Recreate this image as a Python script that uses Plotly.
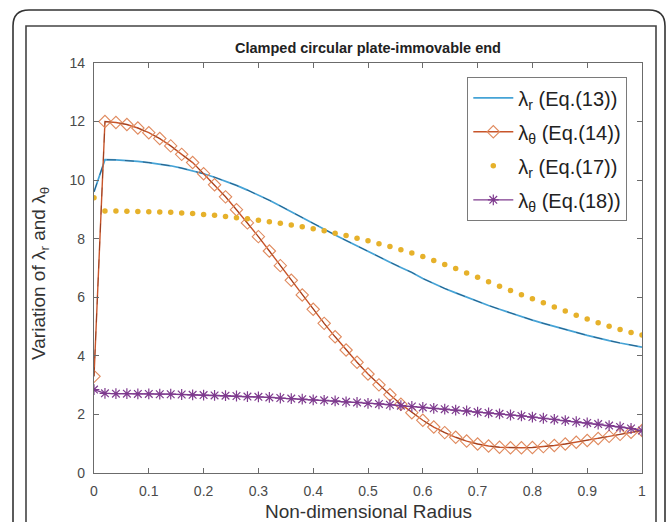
import plotly.graph_objects as go

# ---------------- data ----------------
radius = [0.00, 0.02, 0.04, 0.06, 0.08, 0.10, 0.12, 0.14, 0.16, 0.18,
          0.20, 0.22, 0.24, 0.26, 0.28, 0.30, 0.32, 0.34, 0.36, 0.38,
          0.40, 0.42, 0.44, 0.46, 0.48, 0.50, 0.52, 0.54, 0.56, 0.58,
          0.60, 0.62, 0.64, 0.66, 0.68, 0.70, 0.72, 0.74, 0.76, 0.78,
          0.80, 0.82, 0.84, 0.86, 0.88, 0.90, 0.92, 0.94, 0.96, 0.98, 1.00]

lam_r_eq13 = [9.60, 10.70, 10.69, 10.67, 10.64, 10.60, 10.55, 10.49, 10.41, 10.32,
              10.22, 10.10, 9.97, 9.82, 9.66, 9.49, 9.31, 9.12, 8.92, 8.72,
              8.51, 8.32, 8.13, 7.94, 7.75, 7.56, 7.38, 7.20, 7.02, 6.85,
              6.64, 6.46, 6.30, 6.15, 6.00, 5.86, 5.72, 5.59, 5.46, 5.34,
              5.22, 5.11, 5.00, 4.90, 4.80, 4.70, 4.60, 4.52, 4.44, 4.37, 4.30]

lam_t_eq14 = [3.30, 12.00, 11.97, 11.90, 11.78, 11.62, 11.42, 11.17, 10.88, 10.60,
              10.22, 9.84, 9.43, 8.99, 8.54, 8.07, 7.58, 7.08, 6.58, 6.08,
              5.59, 5.11, 4.65, 4.20, 3.78, 3.38, 3.01, 2.67, 2.35, 2.06,
              1.80, 1.57, 1.38, 1.22, 1.09, 0.99, 0.92, 0.88, 0.86, 0.86,
              0.87, 0.90, 0.94, 0.99, 1.05, 1.11, 1.18, 1.25, 1.32, 1.39, 1.45]

lam_r_eq17 = [9.40, 8.95, 8.95, 8.94, 8.93, 8.92, 8.91, 8.90, 8.88, 8.86,
              8.83, 8.80, 8.76, 8.72, 8.68, 8.63, 8.58, 8.53, 8.47, 8.41,
              8.34, 8.27, 8.19, 8.11, 8.02, 7.93, 7.83, 7.73, 7.62, 7.51,
              7.39, 7.26, 7.12, 6.98, 6.83, 6.68, 6.53, 6.38, 6.23, 6.09,
              5.95, 5.81, 5.67, 5.53, 5.39, 5.26, 5.13, 5.01, 4.90, 4.80, 4.71]

lam_t_eq18 = [2.85, 2.72, 2.71, 2.71, 2.70, 2.70, 2.69, 2.69, 2.68, 2.67,
              2.66, 2.65, 2.64, 2.63, 2.61, 2.60, 2.58, 2.56, 2.54, 2.52,
              2.50, 2.48, 2.46, 2.43, 2.41, 2.38, 2.36, 2.33, 2.30, 2.27,
              2.24, 2.21, 2.18, 2.15, 2.12, 2.08, 2.05, 2.02, 1.98, 1.95,
              1.91, 1.87, 1.83, 1.79, 1.75, 1.71, 1.67, 1.62, 1.57, 1.52, 1.45]

x_ticks = [0, 0.1, 0.2, 0.3, 0.4, 0.5, 0.6, 0.7, 0.8, 0.9, 1]
x_tick_labels = ["0", "0.1", "0.2", "0.3", "0.4", "0.5", "0.6", "0.7", "0.8", "0.9", "1"]
y_ticks = [0, 2, 4, 6, 8, 10, 12, 14]

names = ["λ<sub>r</sub> (Eq.(13))", "λ<sub>θ</sub> (Eq.(14))",
         "λ<sub>r</sub> (Eq.(17))", "λ<sub>θ</sub> (Eq.(18))"]
title_text = "Clamped circular plate-immovable end"
x_title = "Non-dimensional Radius"
y_title = "Variation of λ<sub>r</sub> and λ<sub>θ</sub>"

# ---------------- layout geometry ----------------
W, H = 669, 522
L, R, T, B = 94, 642, 63, 473
FONT = "Liberation Sans, Arial, Helvetica, sans-serif"


def px_x(p):
    return (p - L) / (R - L)


def px_y(p):
    return (B - p) / (B - T)


fig = go.Figure()

# Eq.(13) blue line + dashed dark overlay
fig.add_trace(go.Scatter(x=radius, y=lam_r_eq13, mode="lines", name=names[0],
                         line=dict(color="#45A3D6", width=1.7), legendgroup="a"))
fig.add_trace(go.Scatter(x=radius, y=lam_r_eq13, mode="lines", showlegend=False,
                         line=dict(color="rgba(20,40,70,0.55)", width=1, dash="dash"),
                         hoverinfo="skip"))

# Eq.(14) orange line with diamonds + dashed overlay
fig.add_trace(go.Scatter(x=radius, y=lam_t_eq14, mode="lines+markers", name=names[1],
                         line=dict(color="#C8552A", width=1.4),
                         marker=dict(symbol="diamond-open", size=9.5,
                                     line=dict(color="#E08A5E", width=1.1),
                                     color="#E08A5E"),
                         legendgroup="b"))
fig.add_trace(go.Scatter(x=radius, y=lam_t_eq14, mode="lines", showlegend=False,
                         line=dict(color="rgba(110,40,20,0.5)", width=1, dash="dash"),
                         hoverinfo="skip"))

# Eq.(17) yellow dots
fig.add_trace(go.Scatter(x=radius, y=lam_r_eq17, mode="markers", name=names[2],
                         marker=dict(symbol="circle", size=5.5, color="#E6B12A"),
                         legendgroup="c"))

# Eq.(18) purple line with stars
fig.add_trace(go.Scatter(x=radius, y=lam_t_eq18, mode="lines+markers", name=names[3],
                         line=dict(color="#7E3A8E", width=1.3),
                         marker=dict(symbol="asterisk-open", size=9,
                                     line=dict(color="#8E4A9E", width=1.2)),
                         legendgroup="d"))

axis_common = dict(showline=True, linecolor="#6b6b6b", linewidth=1.3, mirror="ticks",
                   ticks="inside", ticklen=5, tickcolor="#6b6b6b", showgrid=False,
                   zeroline=False, tickfont=dict(family=FONT, size=14, color="#4a4a4a"))

fig.update_layout(
    width=W, height=H,
    margin=dict(l=L, r=W - R, t=T, b=H - B),
    paper_bgcolor="white", plot_bgcolor="white",
    font=dict(family=FONT),
    xaxis=dict(range=[0, 1], tickvals=x_ticks, ticktext=x_tick_labels,
               ticklabelstandoff=5, **axis_common),
    yaxis=dict(range=[0, 14], tickvals=y_ticks, ticklabelstandoff=5, **axis_common),
    showlegend=True,
    legend=dict(x=px_x(627), y=px_y(77), xanchor="right", yanchor="top",
                bgcolor="white", bordercolor="#7a7a7a", borderwidth=1.3,
                font=dict(family=FONT, size=20, color="#222"),
                tracegroupgap=5, itemwidth=40),
)

fig.add_annotation(x=0.5, y=px_y(48), xref="paper", yref="paper", text="<b>" + title_text + "</b>",
                   showarrow=False, font=dict(family=FONT, size=14.5, color="#222"),
                   xanchor="center", yanchor="middle")
fig.add_annotation(x=0.5, y=px_y(511), xref="paper", yref="paper", text=x_title,
                   showarrow=False, font=dict(family=FONT, size=19, color="#333"),
                   xanchor="center", yanchor="middle")
fig.add_annotation(x=px_x(40), y=px_y(274), xref="paper", yref="paper", text=y_title,
                   showarrow=False, textangle=-90, font=dict(family=FONT, size=19, color="#333"),
                   xanchor="center", yanchor="middle")

# outer rounded frame and inner frame
r = 16
outer = (f"M {px_x(13)} {px_y(560)} L {px_x(13)} {px_y(10 + r)} "
         f"Q {px_x(13)} {px_y(10)} {px_x(13 + r)} {px_y(10)} "
         f"L {px_x(665 - r)} {px_y(10)} Q {px_x(665)} {px_y(10)} {px_x(665)} {px_y(10 + r)} "
         f"L {px_x(665)} {px_y(560)}")
inner = (f"M {px_x(26)} {px_y(560)} L {px_x(26)} {px_y(26)} "
         f"L {px_x(656)} {px_y(26)} L {px_x(656)} {px_y(560)}")
fig.add_shape(type="path", path=outer, xref="paper", yref="paper",
              line=dict(color="#333", width=1.6))
fig.add_shape(type="path", path=inner, xref="paper", yref="paper",
              line=dict(color="#444", width=1.6))

fig.write_html("out.html", config={"displayModeBar": False},
               post_script="document.body.style.margin='0';document.body.style.padding='0';"
                           "document.body.style.overflow='hidden';")
